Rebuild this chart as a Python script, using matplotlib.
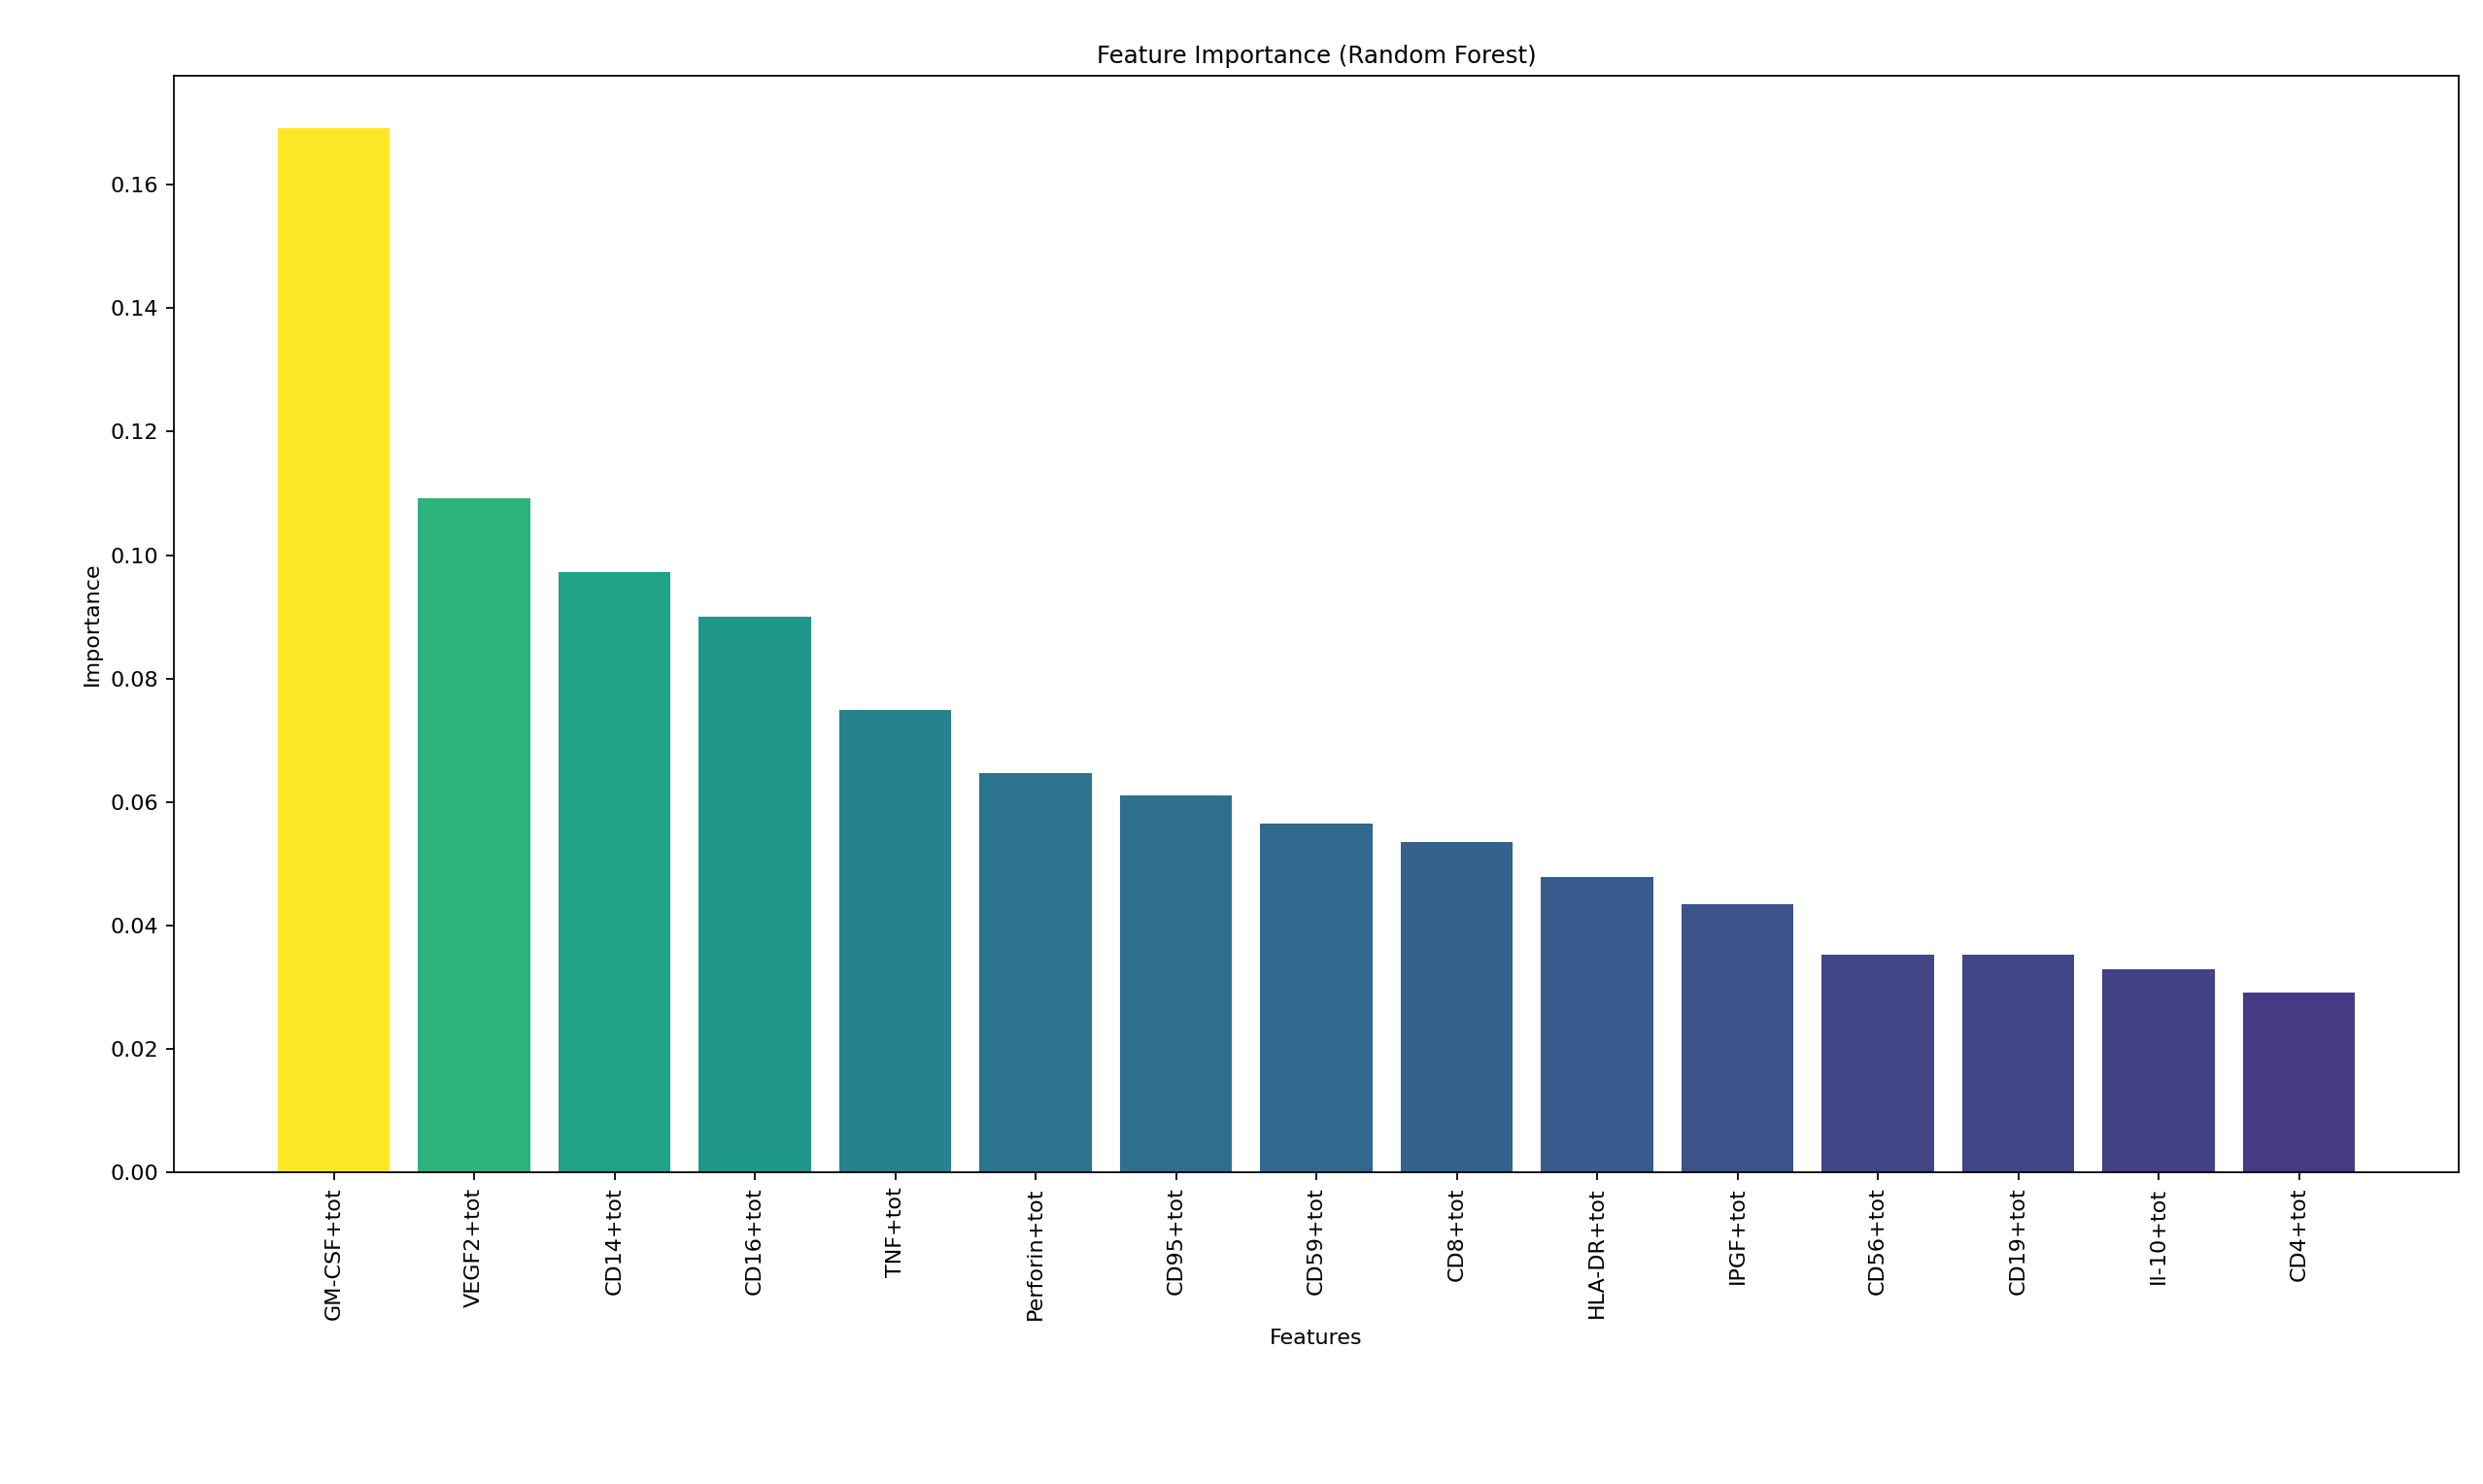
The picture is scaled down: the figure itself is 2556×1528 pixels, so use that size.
import numpy as np
import matplotlib.pyplot as plt

features = [
    "GM-CSF+tot", "VEGF2+tot", "CD14+tot", "CD16+tot", "TNF+tot",
    "Perforin+tot", "CD95+tot", "CD59+tot", "CD8+tot", "HLA-DR+tot",
    "IPGF+tot", "CD56+tot", "CD19+tot", "Il-10+tot", "CD4+tot",
]
importance = [
    0.1692, 0.1092, 0.0973, 0.0900, 0.0749,
    0.0647, 0.0610, 0.0565, 0.0535, 0.0479,
    0.0434, 0.0353, 0.0353, 0.0329, 0.0291,
]

imp = np.array(importance)
colors = plt.cm.viridis(imp / imp.max())

fig = plt.figure(figsize=(15.98, 9.55), dpi=160)
ax = fig.add_axes([0.070, 0.210, 0.920, 0.739])
ax.bar(features, importance, color=colors)
ax.set_title("Feature Importance (Random Forest)", fontsize=11)
ax.set_xlabel("Features")
ax.set_ylabel("Importance")
ax.tick_params(axis="x", rotation=90)
ax.set_yticks(np.arange(0, 0.17, 0.02))

fig.savefig("out.png", dpi=160)
